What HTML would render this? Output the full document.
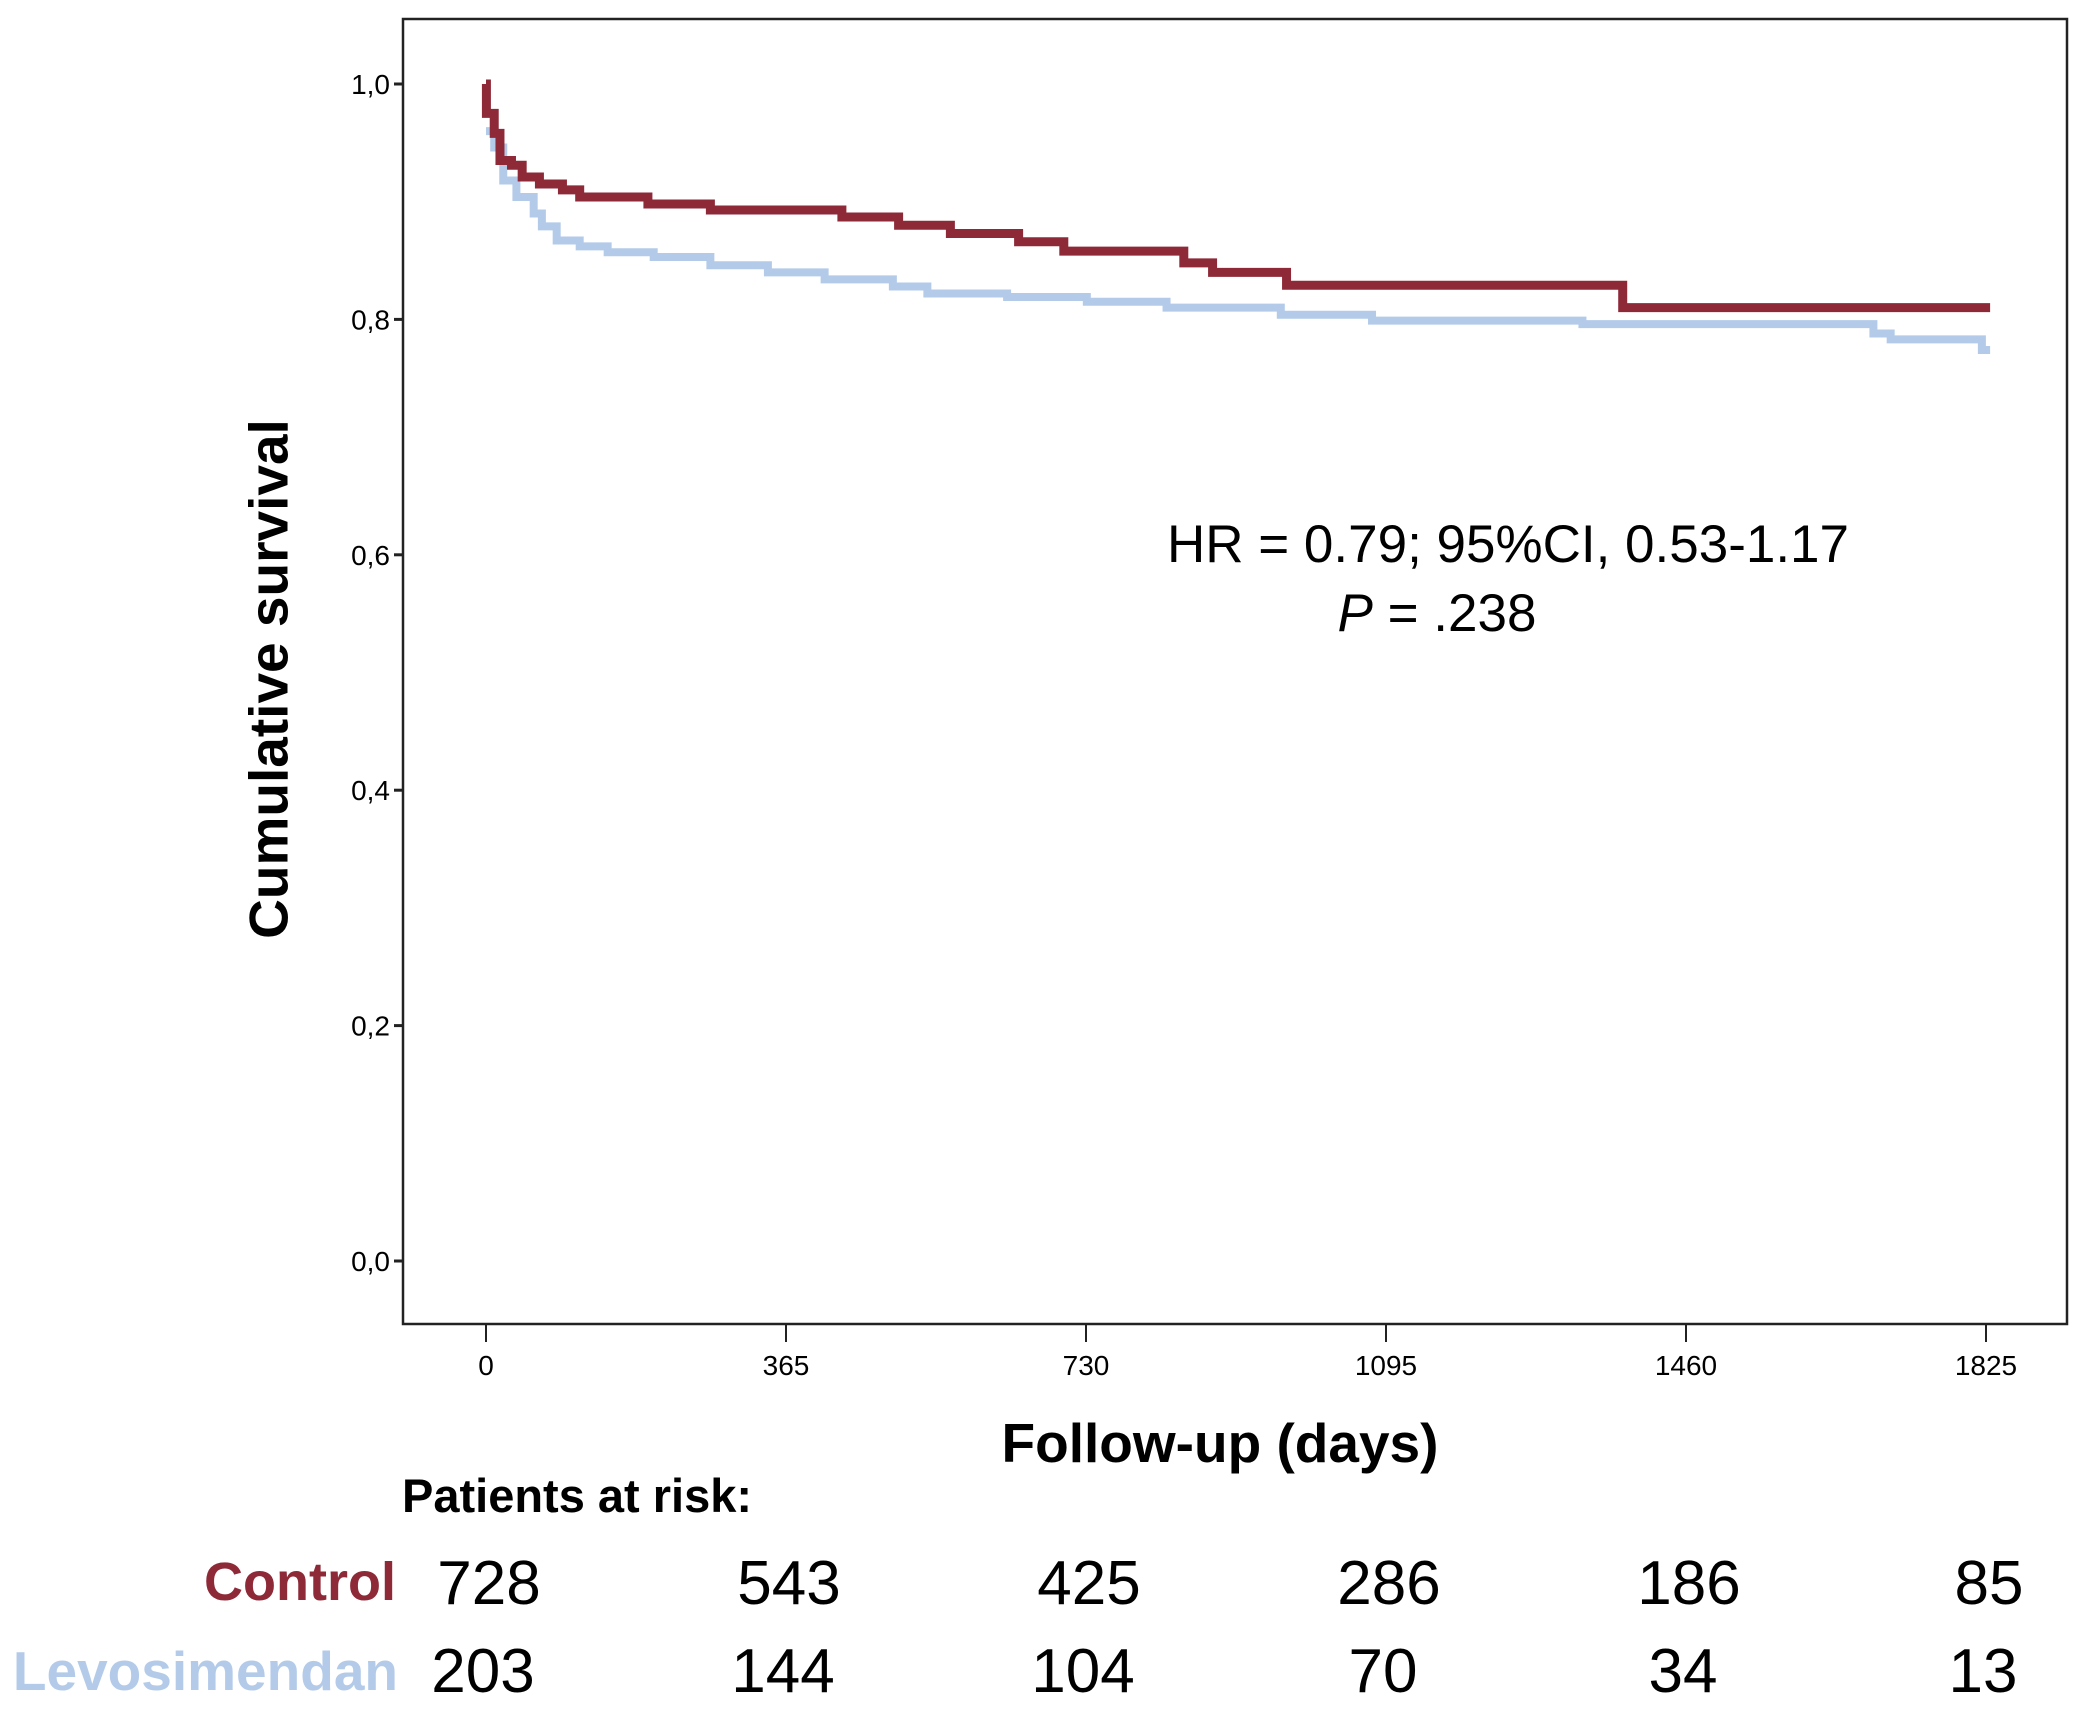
<!DOCTYPE html>
<html><head><meta charset="utf-8"><style>
html,body{margin:0;padding:0;background:#fff;}
svg{display:block;font-family:"Liberation Sans",sans-serif;}
</style></head><body>
<svg id="chart" width="2087" height="1720" viewBox="0 0 2087 1720" xmlns="http://www.w3.org/2000/svg">
<rect x="403" y="19" width="1664" height="1305" fill="#fff" stroke="#222" stroke-width="2.5"/>
<g id="yticks"></g>
<g id="xticks"></g>
<g id="series"></g>
<text x="273" y="679" transform="rotate(-90 273 679)" text-anchor="middle" dominant-baseline="middle" font-size="55" font-weight="bold">Cumulative survival</text>
<text x="1220" y="1462" text-anchor="middle" font-size="55" font-weight="bold">Follow-up (days)</text>
<text x="1508" y="562" text-anchor="middle" font-size="53">HR = 0.79; 95%CI, 0.53-1.17</text>
<text x="1437" y="631" text-anchor="middle" font-size="53"><tspan font-style="italic">P</tspan> = .238</text>
<text x="402" y="1512" font-size="47" font-weight="bold">Patients at risk:</text>
<text x="396" y="1600" text-anchor="end" font-size="54" font-weight="bold" fill="#8e2a38">Control</text>
<text x="398" y="1690" text-anchor="end" font-size="55" font-weight="bold" fill="#b3cbe9">Levosimendan</text>
<g id="risk"></g>
</svg>
<script>
const xTicks = [0, 365, 730, 1095, 1460, 1825];
const yTicks = [0, 0.2, 0.4, 0.6, 0.8, 1.0];
const yTickLabels = ["0,0", "0,2", "0,4", "0,6", "0,8", "1,0"];
const controlDays = [0, 0.5, 10, 17, 31, 44, 65, 93, 114, 197, 273, 433, 502, 565, 648, 703, 849, 884, 974, 1383];
const controlSurv = [1.0, 0.975, 0.958, 0.935, 0.931, 0.921, 0.915, 0.910, 0.904, 0.898, 0.893, 0.887, 0.880, 0.873, 0.866, 0.858, 0.848, 0.840, 0.829, 0.810];
const controlEnd = 1830;
const levoDays = [0, 10, 21, 37, 58, 68, 86, 114, 148, 204, 273, 343, 412, 495, 537, 634, 731, 828, 967, 1078, 1334, 1688, 1709, 1820];
const levoSurv = [0.960, 0.946, 0.918, 0.904, 0.890, 0.879, 0.867, 0.862, 0.857, 0.853, 0.846, 0.840, 0.834, 0.828, 0.822, 0.819, 0.815, 0.810, 0.804, 0.799, 0.796, 0.788, 0.783, 0.774];
const levoEnd = 1830;
const controlRisk = [728, 543, 425, 286, 186, 85];
const levoRisk = [203, 144, 104, 70, 34, 13];

const NS = "http://www.w3.org/2000/svg";
function xs(d){ return 486 + d / 1825 * 1500; }
function ys(v){ return 1261 - v * 1177; }
function mk(tag, attrs, parent, txt){
  const e = document.createElementNS(NS, tag);
  for (const k in attrs) e.setAttribute(k, attrs[k]);
  if (txt !== undefined) e.textContent = txt;
  parent.appendChild(e); return e;
}
const yg = document.getElementById('yticks');
yTicks.forEach((v, i) => {
  const l = mk('line', {x1: 394, x2: 403, y1: ys(v), y2: ys(v), stroke: '#222', 'stroke-width': 3}, yg);
  
  
  const t = mk('text', {x: 390, y: ys(v) + 10, 'text-anchor': 'end', 'font-size': 28}, yg, yTickLabels[i]);
  
  
});
const xg = document.getElementById('xticks');
xTicks.forEach(d => {
  const l = mk('line', {x1: xs(d), x2: xs(d), y1: 1324, y2: 1342, stroke: '#222', 'stroke-width': 2}, xg);
  
  
  const t = mk('text', {x: xs(d), y: 1375, 'text-anchor': 'middle', 'font-size': 28}, xg, String(d));
  
  
});
function stepPath(days, surv, end){
  let p = 'M' + xs(days[0]) + ',' + ys(surv[0]);
  for (let i = 1; i < days.length; i++) {
    p += ' H' + xs(days[i]) + ' V' + ys(surv[i]);
  }
  p += ' H' + xs(end);
  return p;
}
const sg = document.getElementById('series');
const lv = mk('path', {d: stepPath(levoDays, levoSurv, levoEnd), fill: 'none', stroke: '#b3cbe9', 'stroke-width': 8}, sg);


const ct = mk('path', {d: stepPath(controlDays, controlSurv, controlEnd), fill: 'none', stroke: '#8e2a38', 'stroke-width': 9}, sg);


const rg = document.getElementById('risk');
xTicks.forEach((d, i) => {
  const a = mk('text', {x: xs(d) + 3, y: 1604, 'text-anchor': 'middle', 'font-size': 62}, rg, String(controlRisk[i]));
  
  
  const b = mk('text', {x: xs(d) - 3, y: 1692, 'text-anchor': 'middle', 'font-size': 62}, rg, String(levoRisk[i]));
  
  
});
</script>
</body></html>
